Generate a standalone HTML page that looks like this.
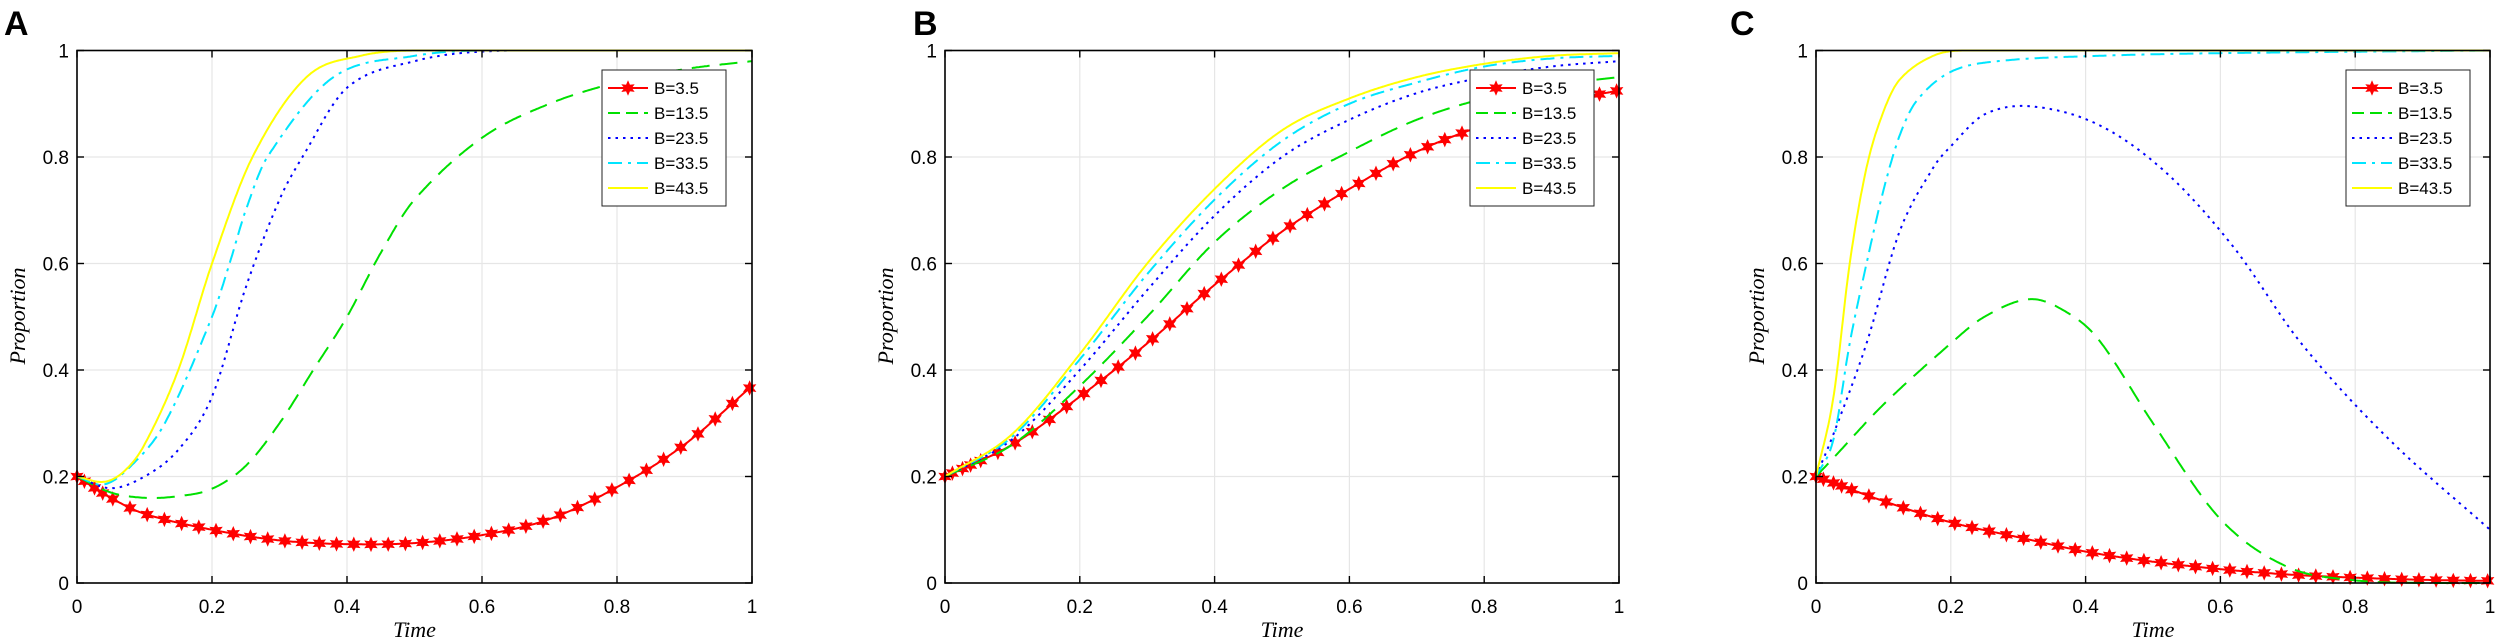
<!DOCTYPE html>
<html><head><meta charset="utf-8"><style>
html,body{margin:0;padding:0;background:#fff;}
svg{display:block;}
</style></head><body>
<svg id="s" width="2500" height="644" xmlns="http://www.w3.org/2000/svg"></svg>
<script>
(function(){
const S=document.getElementById('s');const NS='http://www.w3.org/2000/svg';
function el(t,a,txt){const e=document.createElementNS(NS,t);for(const k in a)e.setAttribute(k,a[k]);if(txt!==undefined)e.textContent=txt;S.appendChild(e);return e;}
const TOP=50.5,BOT=583;
function cr(pts,t){
  let i=0;while(i<pts.length-2&&t>pts[i+1][0])i++;
  const p0=pts[Math.max(i-1,0)],p1=pts[i],p2=pts[i+1],p3=pts[Math.min(i+2,pts.length-1)];
  const u=(t-p1[0])/(p2[0]-p1[0]);
  const m1=(p2[1]-p0[1])/(p2[0]-p0[0])*(p2[0]-p1[0]);
  const m2=(p3[1]-p1[1])/(p3[0]-p1[0])*(p2[0]-p1[0]);
  const u2=u*u,u3=u2*u;
  return (2*u3-3*u2+1)*p1[1]+(u3-2*u2+u)*m1+(-2*u3+3*u2)*p2[1]+(u3-u2)*m2;
}
function f(pts){return t=>Math.min(1,Math.max(0,cr(pts,t)));}
const panels=[
 {x0:77,x1:752,L:'A',lx:4,leg:602,
  c:[
   f([[0,.2],[.05,.16],[.1,.13],[.2,.1],[.3,.08],[.4,.073],[.5,.075],[.6,.09],[.7,.12],[.8,.18],[.9,.26],[1,.37]]),
   f([[0,.2],[.05,.17],[.1,.16],[.15,.163],[.2,.177],[.25,.22],[.3,.3],[.35,.4],[.4,.5],[.45,.62],[.5,.72],[.6,.836],[.7,.9],[.8,.94],[.9,.965],[1,.98]]),
   f([[0,.2],[.05,.178],[.1,.2],[.15,.25],[.2,.35],[.25,.555],[.3,.72],[.334,.8],[.4,.93],[.5,.98],[.6,.998],[.8,1],[1,1]]),
   f([[0,.2],[.04,.185],[.08,.22],[.13,.3],[.2,.5],[.226,.6],[.25,.7],[.282,.8],[.38,.95],[.5,.99],[.6,1],[1,1]]),
   f([[0,.2],[.04,.19],[.07,.21],[.1,.26],[.15,.4],[.2,.6],[.26,.8],[.34,.95],[.42,.99],[.5,1],[1,1]])]},
 {x0:945,x1:1619,L:'B',lx:913,leg:1470,
  c:[
   f([[0,.2],[.1,.26],[.2,.35],[.3,.45],[.4,.56],[.5,.66],[.6,.74],[.7,.81],[.8,.86],[.9,.9],[1,.925]]),
   f([[0,.2],[.1,.26],[.2,.37],[.3,.5],[.4,.64],[.5,.74],[.6,.81],[.7,.87],[.8,.91],[.9,.935],[1,.95]]),
   f([[0,.2],[.1,.27],[.2,.4],[.3,.55],[.4,.69],[.5,.8],[.6,.87],[.7,.92],[.8,.95],[.9,.97],[1,.98]]),
   f([[0,.2],[.1,.275],[.2,.42],[.3,.58],[.4,.72],[.5,.83],[.6,.9],[.7,.94],[.8,.97],[.9,.985],[1,.99]]),
   f([[0,.2],[.1,.28],[.2,.43],[.3,.6],[.4,.74],[.5,.85],[.6,.91],[.7,.95],[.8,.975],[.9,.99],[1,.995]])]},
 {x0:1816,x1:2490,L:'C',lx:1730,leg:2346,
  c:[
   f([[0,.2],[.1,.154],[.2,.114],[.3,.086],[.4,.059],[.5,.04],[.6,.026],[.7,.016],[.8,.01],[.9,.006],[1,.004]]),
   f([[0,.2],[.026,.235],[.1,.335],[.2,.45],[.25,.5],[.317,.533],[.37,.51],[.42,.456],[.5,.3],[.6,.12],[.7,.03],[.8,.005],[.9,0],[1,0]]),
   f([[0,.2],[.026,.28],[.075,.45],[.124,.66],[.174,.78],[.2,.82],[.25,.88],[.32,.895],[.42,.86],[.52,.77],[.62,.63],[.72,.45],[.85,.27],[1,.1]]),
   f([[0,.2],[.026,.27],[.05,.45],[.075,.6],[.1,.737],[.124,.84],[.149,.905],[.2,.96],[.27,.98],[.42,.99],[.6,.995],[1,1]]),
   f([[0,.2],[.026,.35],[.05,.6],[.075,.78],[.1,.885],[.124,.945],[.174,.99],[.22,1],[1,1]])]}
];
const cols=['#ff0000','#00e000','#0000ff','#00e5ff','#ffff00'];
const dash=['','18,10','2.5,5','14,6,3,6',''];
const names=['B=3.5','B=13.5','B=23.5','B=33.5','B=43.5'];
const mk=[0,.011,.026,.038];for(let k=0;k<=37;k++)mk.push(.053+.0255*k);
function star(x,y,r){let p=[];for(let k=0;k<12;k++){const a=Math.PI/6*k-Math.PI/2;const rr=k%2?r*0.5:r;p.push((x+rr*Math.cos(a)).toFixed(1)+','+(y+rr*Math.sin(a)).toFixed(1));}
 el('polygon',{points:p.join(' '),fill:'#ff0000',stroke:'#ff0000','stroke-width':1});}
for(const P of panels){
 const W=P.x1-P.x0,H=BOT-TOP;const X=t=>P.x0+t*W,Y=v=>BOT-v*H;
 el('rect',{x:P.x0,y:TOP,width:W,height:H,fill:'#fff'});
 for(let i=1;i<5;i++){el('line',{x1:X(i/5),y1:TOP,x2:X(i/5),y2:BOT,stroke:'#e6e6e6','stroke-width':1.2});el('line',{x1:P.x0,y1:Y(i/5),x2:P.x1,y2:Y(i/5),stroke:'#e6e6e6','stroke-width':1.2});}
 for(let c=0;c<5;c++){let d='';for(let k=0;k<=600;k++){const t=k/600;d+=(k?'L':'M')+X(t).toFixed(1)+','+Y(P.c[c](t)).toFixed(1);}
  const a={d:d,fill:'none',stroke:cols[c],'stroke-width':2};if(dash[c])a['stroke-dasharray']=dash[c];el('path',a);
  if(c==0){for(const t of mk){star(X(t),Y(P.c[0](t)),6.5);}}}
 el('rect',{x:P.x0,y:TOP,width:W,height:H,fill:'none',stroke:'#000','stroke-width':1.6});
 for(let i=0;i<=5;i++){const x=X(i/5),y=Y(i/5);
  el('line',{x1:x,y1:BOT,x2:x,y2:BOT-7,stroke:'#000','stroke-width':1.4});el('line',{x1:x,y1:TOP,x2:x,y2:TOP+7,stroke:'#000','stroke-width':1.4});
  el('line',{x1:P.x0,y1:y,x2:P.x0+7,y2:y,stroke:'#000','stroke-width':1.4});el('line',{x1:P.x1,y1:y,x2:P.x1-7,y2:y,stroke:'#000','stroke-width':1.4});
  const lab=i==0?'0':i==5?'1':(i/5).toFixed(1);
  el('text',{x:x,y:613,'text-anchor':'middle','font-family':'Liberation Sans, sans-serif','font-size':19},lab);
  el('text',{x:P.x0-8,y:y+7,'text-anchor':'end','font-family':'Liberation Sans, sans-serif','font-size':19},lab);}
 el('text',{x:(P.x0+P.x1)/2,y:637,'text-anchor':'middle','font-family':'Liberation Serif, serif','font-style':'italic','font-size':22},'Time');
 el('text',{x:0,y:0,transform:'translate('+(P.x0-52)+',316) rotate(-90)','text-anchor':'middle','font-family':'Liberation Serif, serif','font-style':'italic','font-size':22},'Proportion');
 el('text',{x:P.lx,y:35,'font-family':'Liberation Sans, sans-serif','font-weight':'bold','font-size':34},P.L);
 const lx=P.leg;el('rect',{x:lx,y:70,width:124,height:136,fill:'#fff',stroke:'#222','stroke-width':1});
 for(let c=0;c<5;c++){const y=88+c*25;const a={x1:lx+6,y1:y,x2:lx+46,y2:y,stroke:cols[c],'stroke-width':2};if(dash[c])a['stroke-dasharray']=c==1?'12,6':dash[c];el('line',a);
  if(c==0)star(lx+26,y,6.5);
  el('text',{x:lx+52,y:y+6,'font-family':'Liberation Sans Narrow, Liberation Sans, sans-serif','font-size':17},names[c]);}
}
})();
</script>
</body></html>
